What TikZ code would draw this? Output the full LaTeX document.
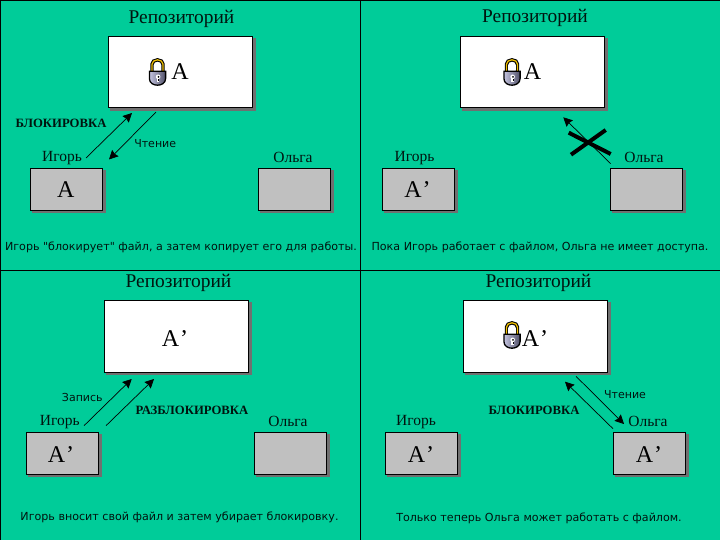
\documentclass[tikz,border=0pt]{standalone}
\usepackage{fontspec}
\setmainfont{Liberation Serif}
\newfontfamily\capfont{DejaVu Sans}
\usetikzlibrary{arrows.meta}
\definecolor{panelbg}{HTML}{00CC99}
\definecolor{boxgray}{HTML}{C0C0C0}
\definecolor{shadowgray}{HTML}{707070}
\definecolor{lockyellow}{HTML}{F0C000}
\definecolor{locklight}{HTML}{C4C4E0}
\definecolor{lockdark}{HTML}{505068}
\definecolor{ink}{HTML}{00140F}
\tikzset{
  repobox/.style={draw=black,line width=1pt,fill=white,outer sep=0pt,minimum width=144pt,minimum height=71.5pt,inner sep=0pt,anchor=north west},
  userbox/.style={draw=black,line width=1pt,fill=boxgray,outer sep=0pt,minimum width=72pt,minimum height=41.7pt,inner sep=0pt,anchor=north west},
  titletext/.style={inner sep=0pt,anchor=base,font=\fontsize{19.4}{21}\selectfont,text=ink},
  nametext/.style={inner sep=0pt,anchor=base,font=\fontsize{15.5}{17}\selectfont,text=ink},
  filetext/.style={inner sep=0pt,anchor=base,font=\fontsize{24}{26}\selectfont,text=black},
  boldtext/.style={inner sep=0pt,anchor=base,font=\fontsize{12.7}{14}\selectfont\bfseries,text=ink},
  captext/.style={inner sep=0pt,anchor=base,font=\capfont\fontsize{11.1}{13}\selectfont,text=ink},
  arrowtext/.style={inner sep=0pt,anchor=base,font=\capfont\fontsize{11}{13}\selectfont,text=ink},
  flow/.style={line width=0.7pt,-{Stealth[length=9pt,width=9pt,inset=1pt]}},
  barcross/.style={line width=4pt,black},
  divider/.style={line width=1pt,black},
  lockicon/.pic={
    \draw[line width=3.4pt,black] (3.5,14) -- (3.5,6.2) arc[start angle=180,end angle=360,x radius=5.5,y radius=4.4] -- (14.5,14);
    \draw[line width=1.3pt,lockyellow] (3.5,14) -- (3.5,6.2) arc[start angle=180,end angle=360,x radius=5.5,y radius=4.4] -- (14.5,14);
    \fill[white] (5.3,7) rectangle (12.7,12.5);
    \draw[line width=1.3pt,black,left color=locklight,right color=lockdark]
      (0.9,13.2) -- (17.1,13.2) -- (17.1,20.5) .. controls (17.1,25) and (13,27.2) .. (9,27.2)
      .. controls (5,27.2) and (0.9,25) .. (0.9,20.5) -- cycle;
    \fill[white] (9.6,18.8) circle[radius=2.3];
    \fill[white] (8.4,19) rectangle (10.8,24);
    \fill[black] (10,18.9) circle[radius=1];
    \fill[black] (9.5,21) rectangle (10.5,23);
  },
}
\newcommand{\userrepo}[7]{%
  \path[fill=shadowgray] ({#1+2},{#2+2}) rectangle ({#1+147.6},{#2+74.6});
  \node[repobox] (#3repo) at (#1+0.5,#2+0.5) {};
  \path[fill=shadowgray] ({#4+2},{#5+2}) rectangle ({#4+75.6},{#5+45.2});
  \node[userbox] (#3igor) at (#4+0.5,#5+0.5) {};
  \path[fill=shadowgray] ({#6+2},{#7+2}) rectangle ({#6+75.6},{#7+45.2});
  \node[userbox] (#3olga) at (#6+0.5,#7+0.5) {};
}
\begin{document}
\begin{tikzpicture}[x=1pt,y=-1pt]
\useasboundingbox (0,0) rectangle (720,540);
\fill[panelbg] (0,0) rectangle (720,540);
\draw[divider] (0.5,0) -- (0.5,540);
\draw[divider] (360.5,0) -- (360.5,540);
\draw[divider] (0,0.5) -- (720,0.5);
\draw[divider] (0,270.5) -- (720,270.5);

% panel 1
\userrepo{108}{36}{a}{30}{168}{258}{168}
\node[titletext] (atitle) at (181.5,23.5) {Репозиторий};
\pic at (148.5,58) {lockicon};
\node[filetext] (arepof) at (180,80) {A};
\node[filetext] (aigorf) at (65.7,197.3) {A};
\node[nametext] (aigorn) at (62,161.5) {Игорь};
\node[nametext] (aolgan) at (293,162.5) {Ольга};
\node[boldtext] (alock) at (61,128) {БЛОКИРОВКА};
\node[arrowtext] (aread) at (155.2,147.7) {Чтение};
\node[captext] (acap) at (181,250) {Игорь "блокирует" файл, а затем копирует его для работы.};
\coordinate (a1s) at (86,158);
\coordinate (a1e) at (132,113);
\coordinate (a2s) at (156,112);
\coordinate (a2e) at (109,159.5);
\draw[flow] (a1s) -- (a1e);
\draw[flow] (a2s) -- (a2e);

% panel 2
\userrepo{460}{36}{b}{382}{168}{610}{168}
\node[titletext] (btitle) at (535,23) {Репозиторий};
\pic at (503,58) {lockicon};
\node[filetext] (brepof) at (532.5,80) {A};
\node[filetext] (bigorf) at (417.5,197.3) {A\kern1pt’};
\node[nametext] (bigorn) at (414.5,161.5) {Игорь};
\node[nametext] (bolgan) at (644,162.5) {Ольга};
\node[captext] (bcap) at (540,250.7) {Пока Игорь работает с файлом, Ольга не имеет доступа.};
\coordinate (b1s) at (610.7,163.7);
\coordinate (b1e) at (563.3,117.3);
\draw[flow] (b1s) -- (b1e);
\coordinate (bx1) at (568.7,132.7);
\coordinate (bx2) at (610.7,154);
\coordinate (bx3) at (571,154.7);
\coordinate (bx4) at (605.7,130);
\draw[barcross] (bx1) -- (bx2);
\draw[barcross] (bx3) -- (bx4);

% panel 3
\userrepo{104}{300}{c}{26}{432}{254}{432}
\node[titletext] (ctitle) at (178.5,287.7) {Репозиторий};
\node[filetext] (crepof) at (175,346) {A\kern1pt’};
\node[filetext] (cigorf) at (61,462.3) {A\kern1pt’};
\node[nametext] (cigorn) at (59.7,425.5) {Игорь};
\node[nametext] (colgan) at (288,426.5) {Ольга};
\node[arrowtext] (cwrite) at (82.3,401) {Запись};
\node[boldtext] (cunlock) at (192,414.7) {РАЗБЛОКИРОВКА};
\node[captext] (ccap) at (179.5,520) {Игорь вносит свой файл и затем убирает блокировку.};
\coordinate (c1s) at (84,425.7);
\coordinate (c1e) at (131.7,379);
\coordinate (c2s) at (106,425.7);
\coordinate (c2e) at (154,379);
\draw[flow] (c1s) -- (c1e);
\draw[flow] (c2s) -- (c2e);

% panel 4
\userrepo{463}{300}{d}{385}{432}{613}{432}
\node[titletext] (dtitle) at (538.5,287.7) {Репозиторий};
\pic at (503,321) {lockicon};
\node[filetext] (drepof) at (535,346) {A\kern1pt’};
\node[filetext] (digorf) at (421,462.3) {A\kern1pt’};
\node[filetext] (dolgaf) at (649,462.3) {A\kern1pt’};
\node[nametext] (digorn) at (416,425.5) {Игорь};
\node[nametext] (dolgan) at (648,426.5) {Ольга};
\node[boldtext] (dlock) at (534,414) {БЛОКИРОВКА};
\node[arrowtext] (dread) at (625,398) {Чтение};
\node[captext] (dcap) at (539,521) {Только теперь Ольга может работать с файлом.};
\coordinate (d1s) at (613,428.7);
\coordinate (d1e) at (565,381.7);
\coordinate (d2s) at (576,376.3);
\coordinate (d2e) at (624,424);
\draw[flow] (d1s) -- (d1e);
\draw[flow] (d2s) -- (d2e);
\end{tikzpicture}
\end{document}
